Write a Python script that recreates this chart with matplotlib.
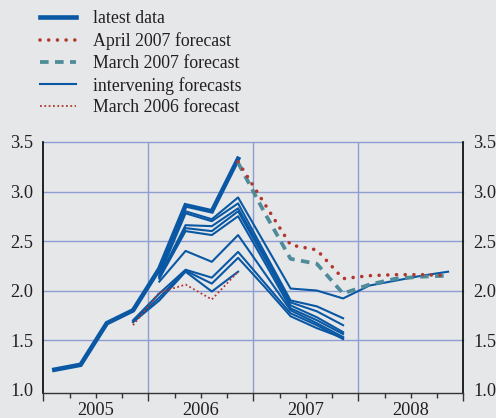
import matplotlib
matplotlib.use("Agg")
import matplotlib.pyplot as plt
from matplotlib.transforms import blended_transform_factory

plt.rcParams['font.family'] = ['Liberation Serif', 'DejaVu Serif']

# quarters are numbered from 2005 Q1 = 0
years = ["2005", "2006", "2007", "2008"]

# (first quarter, values)
latest_start = 0
latest = [1.20, 1.25, 1.67, 1.80, 2.22, 2.86, 2.80, 3.33]

apr07_start = 7
apr07 = [3.30, 2.88, 2.46, 2.41, 2.12, 2.15, 2.16, 2.16, 2.15]

mar07_start = 7
mar07 = [3.29, 2.79, 2.32, 2.27, 1.97, 2.06, 2.12, 2.14, 2.15]

mar06_start = 3
mar06 = [1.65, 1.98, 2.06, 1.91, 2.19]

intervening = [
    (3, [1.70, 1.97, 2.21, 2.13, 2.39, 2.08, 1.77, 1.65, 1.51]),
    (3, [1.69, 1.93, 2.20, 2.07, 2.33, 2.04, 1.74, 1.62, 1.52]),
    (3, [1.68, 1.90, 2.19, 1.99, 2.19]),
    (4, [2.09, 2.40, 2.29, 2.56, 2.18, 1.80, 1.67, 1.53]),
    (4, [2.12, 2.60, 2.56, 2.75, 2.29, 1.82, 1.70, 1.56]),
    (4, [2.13, 2.63, 2.60, 2.80, 2.33, 1.85, 1.73, 1.58]),
    (4, [2.14, 2.66, 2.65, 2.83, 2.36, 1.88, 1.79, 1.65]),
    (4, [2.15, 2.78, 2.70, 2.88, 2.39, 1.90, 1.84, 1.72]),
    (4, [2.17, 2.80, 2.72, 2.94, 2.48, 2.02, 2.00, 1.92, 2.05, 2.10, 2.15, 2.19]),
]

BG = "#e6e7e9"
BLUE = "#0a58a3"
RED = "#b2372f"
TEAL = "#4f8c9a"
GRID = "#8e9ed0"
TXT = "#231f20"


def qx(start, vals):
    # points sit a little before mid-quarter
    return [start + i + 0.42 for i in range(len(vals))]


fig = plt.figure(figsize=(4.96, 4.18), dpi=100, facecolor=BG)
ax = fig.add_axes([0.0873, 0.0598, 0.8468, 0.6005])
ax.set_facecolor(BG)

for y in [1.5, 2.0, 2.5, 3.0, 3.5]:
    ax.axhline(y, color=GRID, lw=1.0, zorder=1, clip_on=False)
for x in [4, 8, 12]:
    ax.axvline(x, color=GRID, lw=1.0, zorder=1)

for i, (s, v) in enumerate(intervening):
    ax.plot(qx(s, v), v, color=BLUE, lw=1.5, zorder=3,
            label="intervening forecasts" if i == 0 else None)

ax.plot(qx(mar06_start, mar06), mar06, color=RED, lw=1.3,
        linestyle=(0, (1, 1.4)), zorder=4, label="March 2006 forecast")
ax.plot(qx(latest_start, latest), latest, color=BLUE, lw=3.3,
        solid_joinstyle="miter", zorder=5, label="latest data")
ax.plot(qx(mar07_start, mar07), mar07, color=TEAL, lw=2.7,
        linestyle=(0, (2.3, 1.7)), zorder=6, label="March 2007 forecast")
ax.plot(qx(apr07_start, apr07), apr07, color=RED, lw=2.6,
        linestyle=(0, (0.01, 2.4)), dash_capstyle="round", zorder=7,
        label="April 2007 forecast")

ax.set_xlim(0, 16)
ax.set_ylim(0.965, 3.5)

ax.set_yticks([1.0, 1.5, 2.0, 2.5, 3.0, 3.5])
ax.set_yticklabels(["1.0", "1.5", "2.0", "2.5", "3.0", "3.5"])
ax.tick_params(axis="y", length=0, labelsize=13.2, labelcolor=TXT,
               labelleft=True, labelright=True, pad=7)

ax.set_xticks([0, 4, 8, 12, 16])
ax.set_xticklabels([])
ax.set_xticks(range(17), minor=True)
ax.tick_params(axis="x", which="major", length=6, width=1, color="#333333",
               direction="out")
ax.tick_params(axis="x", which="minor", length=3.5, width=1, color="#333333",
               direction="out")

tr = blended_transform_factory(ax.transData, ax.transAxes)
for i, yr in enumerate(years):
    ax.text(i * 4 + 2, -0.035, yr, transform=tr, ha="center", va="top",
            fontsize=13.2, color=TXT)

ax.spines["top"].set_visible(False)
for side in ["left", "right"]:
    ax.spines[side].set_color("black")
    ax.spines[side].set_linewidth(1.2)
ax.spines["bottom"].set_color("#333333")
ax.spines["bottom"].set_linewidth(1.0)

h, l = ax.get_legend_handles_labels()
order = ["latest data", "April 2007 forecast", "March 2007 forecast",
         "intervening forecasts", "March 2006 forecast"]
hd = dict(zip(l, h))
leg = fig.legend([hd[k] for k in order], order, loc="upper left",
                 bbox_to_anchor=(0.056, 1.005), frameon=False, fontsize=12.8,
                 handlelength=2.0, handletextpad=0.95, labelspacing=0.27,
                 borderaxespad=0.3)
for t in leg.get_texts():
    t.set_color(TXT)

fig.savefig("out.png", dpi=100, facecolor=BG)
